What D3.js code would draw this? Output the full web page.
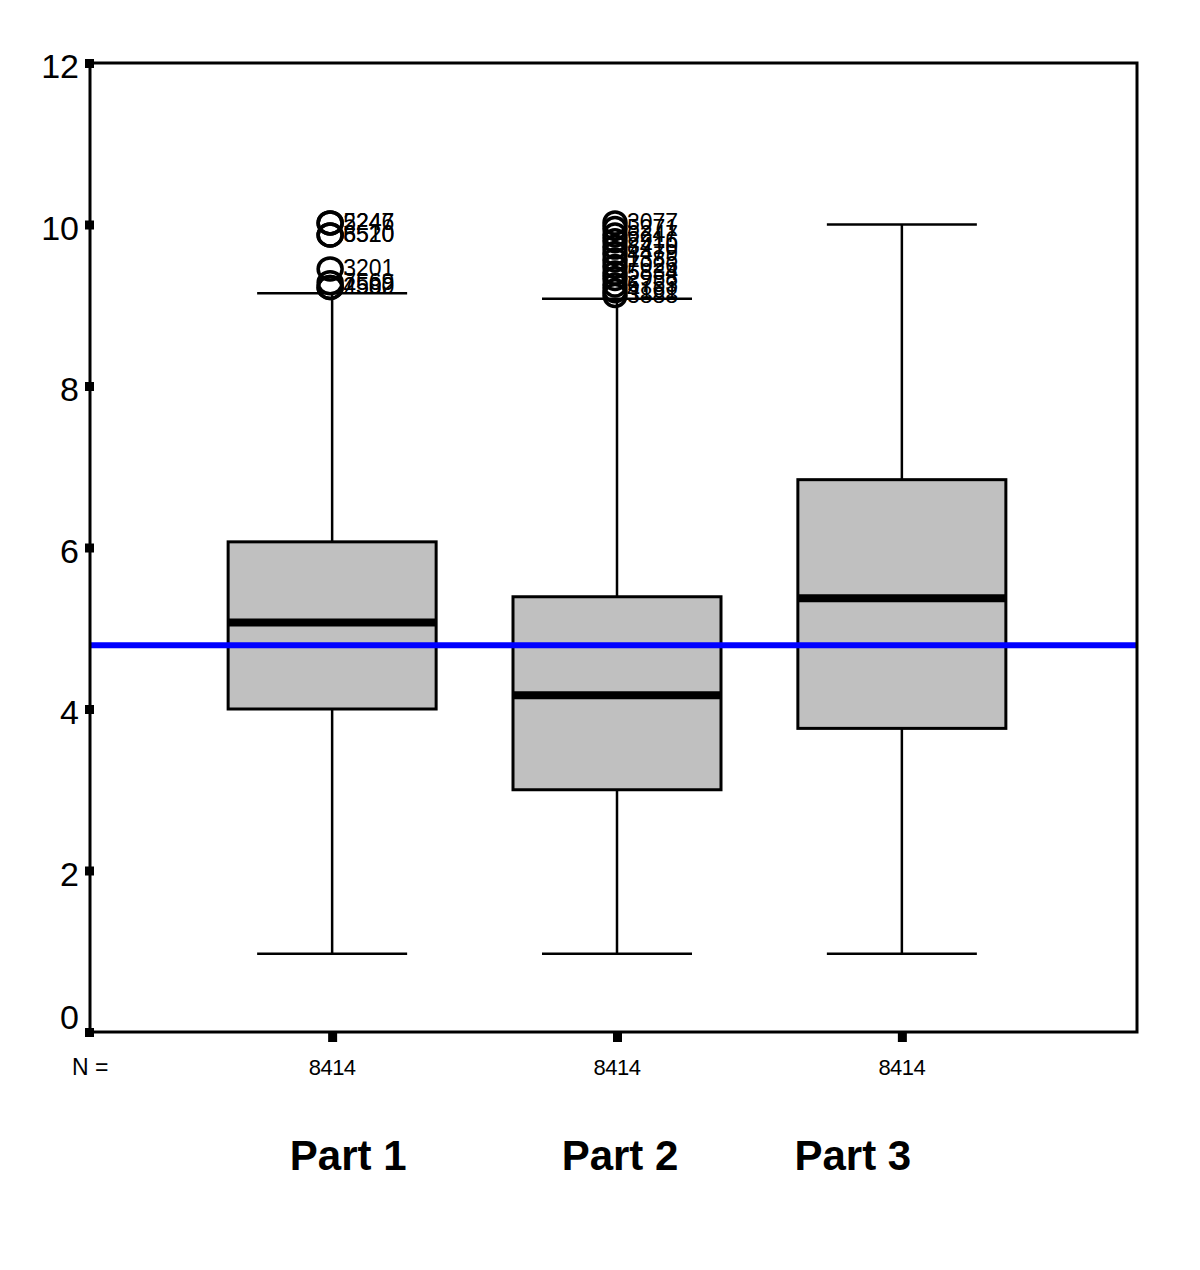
<!DOCTYPE html>
<html>
<head>
<meta charset="UTF-8">
<title>Boxplot Parts</title>
<script src="https://d3js.org/d3.v7.min.js"></script>
<style>
body { margin: 0; background: #fff; }
text { font-family: "Liberation Sans", Arial, sans-serif; fill: #000; }
</style>
</head>
<body>
<div id="chart"></div>
<script>

// data
const parts = ["Part 1", "Part 2", "Part 3"];
const counts = [8414, 8414, 8414];
const q1 = [4.0, 3.0, 3.76];
const medians = [5.07, 4.17, 5.37];
const q3 = [6.07, 5.39, 6.84];
const whiskLo = [0.97, 0.97, 0.97];
const whiskHi = [9.15, 9.08, 10.0];
const refLine = 4.79;
const yTicks = [0, 2, 4, 6, 8, 10, 12];

// outliers (value, case label)
const outliers1 = [
  {v: 10.02, id: "5247"}, {v: 10.02, id: "2246"}, {v: 9.87, id: "8520"}, {v: 9.87, id: "6510"},
  {v: 9.45, id: "3201"}, {v: 9.28, id: "7569"}, {v: 9.22, id: "2502"}, {v: 9.22, id: "4580"}
];
const outliers2 = [
  {v: 10.02, id: "3077"}, {v: 9.95, id: "5271"}, {v: 9.87, id: "6247"}, {v: 9.8, id: "2916"},
  {v: 9.72, id: "8410"}, {v: 9.64, id: "4479"}, {v: 9.56, id: "1385"}, {v: 9.48, id: "7026"},
  {v: 9.4, id: "5834"}, {v: 9.33, id: "2958"}, {v: 9.25, id: "6753"}, {v: 9.18, id: "4161"},
  {v: 9.12, id: "3888"}
];
const outliers = [outliers1, outliers2, []];

const width = 1200, height = 1270;
const margin = {top: 63, right: 63, bottom: 238, left: 90};

const svg = d3.select("#chart").append("svg")
  .attr("width", width)
  .attr("height", height);

const y = d3.scaleLinear().domain([0, 12]).range([height - margin.bottom, margin.top]);
const x = d3.scalePoint().domain(parts).range([margin.left, width - margin.right + 7]).padding(0.85);

const boxW = 208, capW = 150;

parts.forEach(function(p, i) {
  const cx = x(p);
  const g = svg.append("g");
  // whiskers
  g.append("line").attr("x1", cx).attr("x2", cx).attr("y1", y(q3[i])).attr("y2", y(whiskHi[i]))
    .attr("stroke", "#000").attr("stroke-width", 2.5);
  g.append("line").attr("x1", cx).attr("x2", cx).attr("y1", y(q1[i])).attr("y2", y(whiskLo[i]))
    .attr("stroke", "#000").attr("stroke-width", 2.5);
  g.append("line").attr("x1", cx - capW / 2).attr("x2", cx + capW / 2).attr("y1", y(whiskHi[i])).attr("y2", y(whiskHi[i]))
    .attr("stroke", "#000").attr("stroke-width", 2.5);
  g.append("line").attr("x1", cx - capW / 2).attr("x2", cx + capW / 2).attr("y1", y(whiskLo[i])).attr("y2", y(whiskLo[i]))
    .attr("stroke", "#000").attr("stroke-width", 2.5);
  // box
  g.append("rect")
    .attr("x", cx - boxW / 2).attr("width", boxW)
    .attr("y", y(q3[i])).attr("height", y(q1[i]) - y(q3[i]))
    .attr("fill", "#c0c0c0").attr("stroke", "#000").attr("stroke-width", 3);
  // median
  g.append("line").attr("x1", cx - boxW / 2).attr("x2", cx + boxW / 2).attr("y1", y(medians[i])).attr("y2", y(medians[i]))
    .attr("stroke", "#000").attr("stroke-width", 8);

  // outliers
  const rx = i === 0 ? 12 : 11;
  g.selectAll("ellipse.out").data(outliers[i]).enter().append("ellipse")
    .attr("class", "out")
    .attr("cx", cx - 2).attr("cy", d => y(d.v)).attr("rx", rx).attr("ry", 11)
    .attr("fill", "none").attr("stroke", "#000").attr("stroke-width", 3.5);
  g.selectAll("text.out").data(outliers[i]).enter().append("text")
    .attr("class", "out")
    .attr("x", cx + rx - 1).attr("y", d => y(d.v) + 7)
    .attr("font-size", 23)
    .text(d => d.id);

  // N labels
  svg.append("text").attr("x", cx).attr("y", 1075)
    .attr("text-anchor", "middle").attr("font-size", 22).attr("letter-spacing", -0.5)
    .text(counts[i]);
});

// reference line (drawn over the boxes)
svg.append("line")
  .attr("x1", margin.left).attr("x2", width - margin.right)
  .attr("y1", y(refLine)).attr("y2", y(refLine))
  .attr("stroke", "#0000ff").attr("stroke-width", 6);

// frame
svg.append("rect")
  .attr("x", margin.left).attr("y", margin.top)
  .attr("width", width - margin.left - margin.right)
  .attr("height", height - margin.top - margin.bottom)
  .attr("fill", "none").attr("stroke", "#000").attr("stroke-width", 3);

// y ticks (square blocks) + labels
yTicks.forEach(function(t) {
  svg.append("rect").attr("x", margin.left - 5).attr("y", y(t) - 4).attr("width", 9).attr("height", 9).attr("fill", "#000");
  svg.append("text").attr("x", 79).attr("y", y(t) + (t === 0 ? -3 : 15))
    .attr("text-anchor", "end").attr("font-size", 34)
    .text(t);
});

// x ticks
parts.forEach(function(p) {
  svg.append("rect").attr("x", x(p) - 4).attr("y", y(0)).attr("width", 9).attr("height", 10).attr("fill", "#000");
});

svg.append("text").attr("x", 72).attr("y", 1075).attr("font-size", 23).text("N =");

// category labels (placed as in the original, not centered under the boxes)
const labelShift = [16, 3, -49];
parts.forEach(function(p, i) {
  svg.append("text").attr("x", x(p) + labelShift[i]).attr("y", 1170)
    .attr("text-anchor", "middle").attr("font-size", 42).attr("font-weight", "bold")
    .text(p);
});

</script>
</body>
</html>
